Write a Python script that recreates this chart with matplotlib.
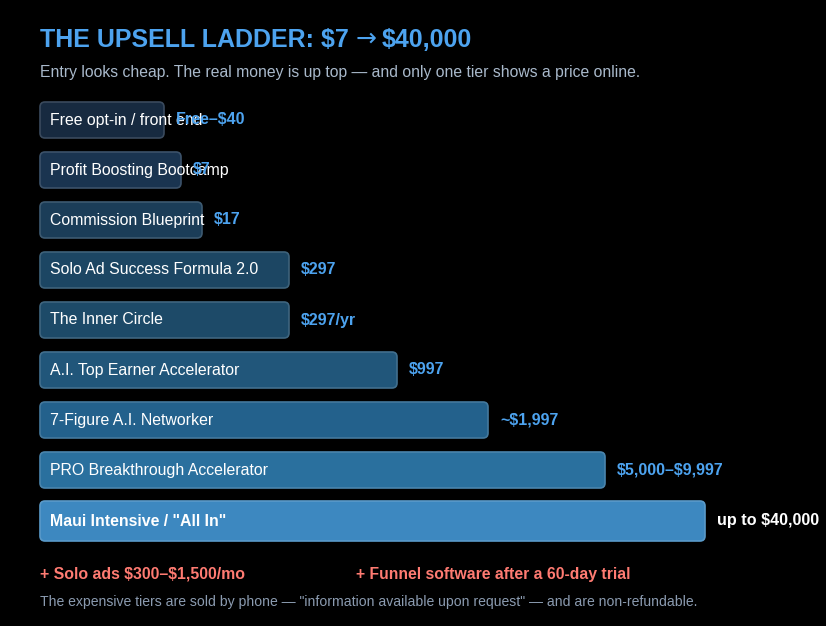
import matplotlib
matplotlib.use('Agg')
import matplotlib.pyplot as plt
from matplotlib.patches import FancyBboxPatch
from matplotlib.colors import to_rgb

plt.rcParams['font.family'] = ['Liberation Sans', 'DejaVu Sans']
plt.rcParams['text.parse_math'] = False

tiers = ['Free opt-in / front end', 'Profit Boosting Bootcamp', 'Commission Blueprint',
         'Solo Ad Success Formula 2.0', 'The Inner Circle', 'A.I. Top Earner Accelerator',
         '7-Figure A.I. Networker', 'PRO Breakthrough Accelerator', 'Maui Intensive / "All In"']
prices = ['Free\u2013$40', '$7', '$17', '$297', '$297/yr', '$997', '~$1,997',
          '$5,000\u2013$9,997', 'up to $40,000']
# relative ladder length of each rung (not linear in price)
rung = [124, 141, 162, 249, 249, 357, 448, 565, 665]

bar_colors = ['#172a40', '#1a3450', '#1b3d58', '#1c4663', '#1d4a68',
              '#21567a', '#23618c', '#2a709e', '#3d88c0']


def lighten(c, amt=0.15):
    r, g, b = to_rgb(c)
    return (r + (1 - r) * amt, g + (1 - g) * amt, b + (1 - b) * amt)


W, H = 826, 626
fig = plt.figure(figsize=(W / 100, H / 100), dpi=100)
fig.patch.set_facecolor('black')
ax = fig.add_axes([0, 0, 1, 1])
ax.set_facecolor('black')
ax.set_xlim(0, W)
ax.set_ylim(H, 0)
ax.axis('off')

x0 = 40
n = len(tiers)
for i, (name, price, w) in enumerate(zip(tiers, prices, rung)):
    last = i == n - 1
    yc = 120 + 50 * i + (1 if last else 0)
    h = 40 if last else 36
    box = FancyBboxPatch((x0, yc - h / 2), w, h,
                         boxstyle='round,pad=0,rounding_size=5',
                         facecolor=bar_colors[i], edgecolor=lighten(bar_colors[i]),
                         linewidth=1.2)
    ax.add_patch(box)
    ax.text(x0 + 10, yc, name, color='white', fontsize=11.4,
            fontweight='bold' if last else 'normal', va='center', ha='left')
    ax.text(x0 + w + 12, yc, price, color='white' if last else '#4da3ef',
            fontsize=11.6 if last else 11.5, fontweight='bold', va='center', ha='left')

# title in three pieces so the arrow sits at cap middle
t1 = ax.text(40, 40, 'THE UPSELL LADDER: $7 ', color='#4da3ef',
             fontsize=18, fontweight='bold', va='center', ha='left')
fig.canvas.draw()
bb = t1.get_window_extent()
xa = bb.x1
t2 = ax.text(xa, 39, '\u2192', color='#4da3ef', fontsize=18, va='center', ha='left',
             family='DejaVu Sans', transform=None)
t2.set_position((xa, H - 39))
fig.canvas.draw()
xb = t2.get_window_extent().x1
ax.text(xb + 5, H - 40, '$40,000', color='#4da3ef', fontsize=18, fontweight='bold',
        va='center', ha='left', transform=None)

ax.text(40, 72, 'Entry looks cheap. The real money is up top \u2014 and only one tier shows a price online.',
        color='#a9b9cb', fontsize=11.3, va='center', ha='left')

ax.text(40, 574, '+ Solo ads $300\u2013$1,500/mo', color='#ff7b72',
        fontsize=11.4, fontweight='bold', va='center', ha='left')
ax.text(356, 574, '+ Funnel software after a 60-day trial', color='#ff7b72',
        fontsize=11.3, fontweight='bold', va='center', ha='left')
ax.text(40, 602, 'The expensive tiers are sold by phone \u2014 "information available upon request" \u2014 and are non-refundable.',
        color='#8b9bb0', fontsize=10.1, va='center', ha='left')

fig.savefig('out.png', dpi=100, facecolor='black')
